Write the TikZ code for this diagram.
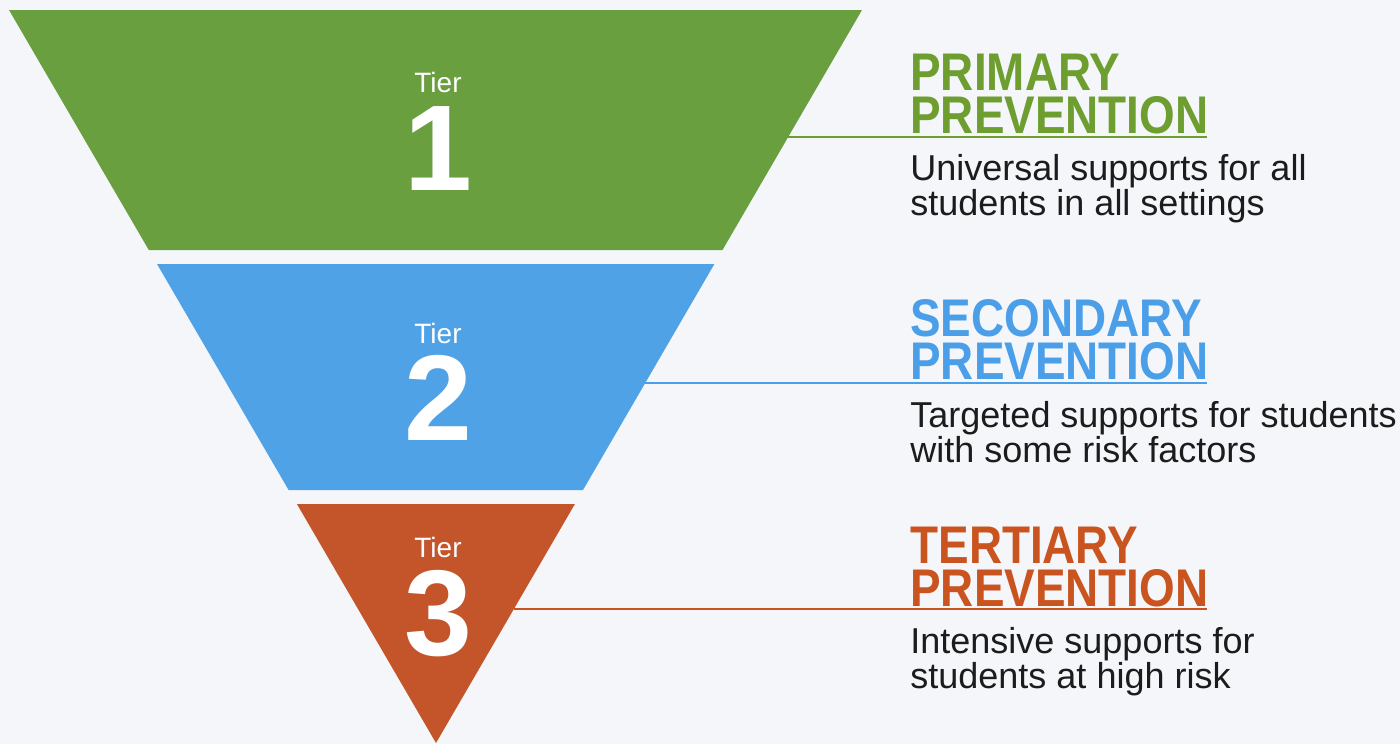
\documentclass[tikz,border=0pt]{standalone}
\usepackage{fontspec}
\setmainfont{Liberation Sans}
\usepackage{graphicx}
\definecolor{bgc}{HTML}{F4F6F9}
\definecolor{gfill}{HTML}{6A9F40}
\definecolor{bfill}{HTML}{50A2E6}
\definecolor{ofill}{HTML}{C4552A}
\definecolor{gtxt}{HTML}{6E9E30}
\definecolor{btxt}{HTML}{4A9FE8}
\definecolor{otxt}{HTML}{C9541F}
\definecolor{bodyc}{HTML}{1C1C1C}
\begin{document}
\begin{tikzpicture}[x=0.5pt,y=-0.5pt,
  tierlbl/.style={text=white,font=\fontsize{14}{14}\selectfont,anchor=base,inner sep=0pt},
  tiernum/.style={text=white,font=\fontsize{61}{61}\selectfont\bfseries,anchor=base,inner sep=0pt},
  hd/.style={font=\fontsize{26.5}{26.5}\selectfont\bfseries,anchor=base west,inner sep=0pt},
  bodytxt/.style={font=\fontsize{18}{18}\selectfont,anchor=base west,inner sep=0pt,text=bodyc},
  leader/.style={line width=1pt}]
\useasboundingbox (0,0) rectangle (1400,744);
\fill[bgc] (0,0) rectangle (1400,744);
% bands of the inverted triangle
\fill[gfill] (9,10) -- (862,10) -- (722.5,250) -- (148.8,250) -- cycle;
\fill[bfill] (157,264) -- (714.4,264) -- (583,490) -- (288.6,490) -- cycle;
\fill[ofill] (296.9,504) -- (574.9,504) -- (436,743) -- cycle;
% tier labels
\node[tierlbl] (t1) at (438,92) {Tier};
\node[tiernum] (n1) at (438,190) {1};
\node[tierlbl] (t2) at (438,343) {Tier};
\node[tiernum] (n2) at (438,440) {2};
\node[tierlbl] (t3) at (438,557) {Tier};
\node[tiernum] (n3) at (438,655) {3};
% leaders
\coordinate (l1s) at (788.2,137);
\coordinate (l1e) at (1207,137);
\coordinate (l2s) at (645.2,383);
\coordinate (l2e) at (1207,383);
\coordinate (l3s) at (513.9,609);
\coordinate (l3e) at (1207,609);
\draw[leader,gtxt] (l1s) -- (l1e);
\draw[leader,btxt] (l2s) -- (l2e);
\draw[leader,otxt] (l3s) -- (l3e);
% headings
\node[hd,text=gtxt] (h1a) at (910,90) {\scalebox{0.865}[1]{PRIMARY}};
\node[hd,text=gtxt] (h1b) at (910,133) {\scalebox{0.865}[1]{PREVENTION}};
\node[hd,text=btxt] (h2a) at (910,336) {\scalebox{0.865}[1]{SECONDARY}};
\node[hd,text=btxt] (h2b) at (910,379) {\scalebox{0.865}[1]{PREVENTION}};
\node[hd,text=otxt] (h3a) at (910,563) {\scalebox{0.865}[1]{TERTIARY}};
\node[hd,text=otxt] (h3b) at (910,606) {\scalebox{0.865}[1]{PREVENTION}};
% descriptions
\node[bodytxt] (d1a) at (910,180) {Universal supports for all};
\node[bodytxt] (d1b) at (910,215) {students in all settings};
\node[bodytxt] (d2a) at (910,427) {Targeted supports for students};
\node[bodytxt] (d2b) at (910,462) {with some risk factors};
\node[bodytxt] (d3a) at (910,653) {Intensive supports for};
\node[bodytxt] (d3b) at (910,688) {students at high risk};
\end{tikzpicture}
\end{document}
